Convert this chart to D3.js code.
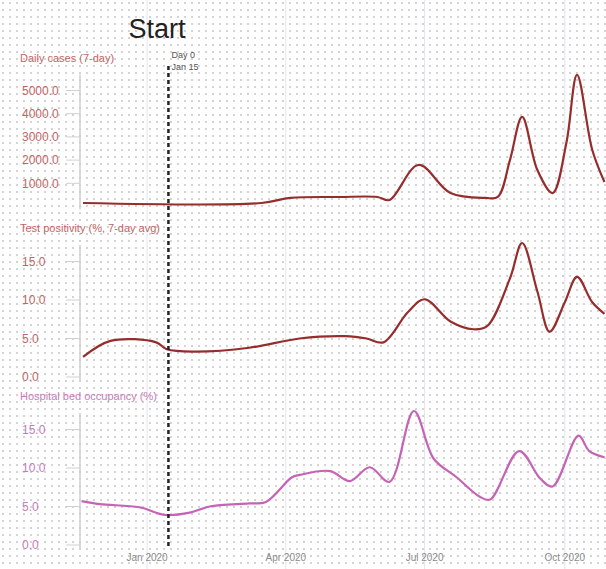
<!DOCTYPE html>
<html>
<head>
<meta charset="utf-8">
<script src="https://cdn.jsdelivr.net/npm/d3@7"></script>
<style>
body { margin: 0; background: #fff; }
svg { display: block; font-family: "Liberation Sans", Arial, sans-serif; }
</style>
</head>
<body>
<svg id="chart"></svg>
<script>
//chart data
const casesDates = ['2019-11-20', '2020-03-16', '2020-04-04', '2020-05-06', '2020-05-31', '2020-06-08', '2020-06-27', '2020-07-18', '2020-08-10', '2020-08-18', '2020-08-26', '2020-09-03', '2020-09-13', '2020-09-23', '2020-10-02', '2020-10-09', '2020-10-19', '2020-10-27'];
const casesValues = [150, 150, 370, 410, 410, 280, 1790, 580, 370, 410, 2000, 3860, 1570, 580, 2740, 5670, 2435, 1055];

const positivityDates = ['2019-11-20', '2019-12-08', '2020-01-07', '2020-01-14', '2020-02-01', '2020-03-08', '2020-04-10', '2020-05-10', '2020-05-24', '2020-06-04', '2020-06-20', '2020-07-01', '2020-07-18', '2020-08-02', '2020-08-11', '2020-08-26', '2020-09-03', '2020-09-13', '2020-09-21', '2020-10-01', '2020-10-09', '2020-10-19', '2020-10-27'];
const positivityValues = [2.6, 4.7, 4.5, 3.6, 3.3, 3.8, 5.0, 5.3, 5.0, 4.5, 8.4, 10.1, 7.2, 6.2, 6.6, 12.8, 17.4, 11.1, 5.9, 9.7, 13.0, 9.7, 8.2];

const hospitalDates = ['2019-11-19', '2019-12-01', '2019-12-27', '2020-01-13', '2020-01-29', '2020-02-11', '2020-03-08', '2020-03-19', '2020-04-05', '2020-04-10', '2020-04-30', '2020-05-13', '2020-05-26', '2020-06-08', '2020-06-24', '2020-07-07', '2020-07-22', '2020-08-06', '2020-08-13', '2020-09-01', '2020-09-15', '2020-09-23', '2020-10-10', '2020-10-17', '2020-10-27'];
const hospitalValues = [5.7, 5.3, 4.9, 3.9, 4.2, 5.0, 5.4, 5.6, 8.8, 9.1, 9.6, 8.3, 10.1, 8.2, 17.4, 11.2, 8.8, 6.3, 5.9, 12.2, 8.6, 7.6, 14.2, 12.2, 11.4];

const panelTitles = ['Daily cases (7-day)', 'Test positivity (%, 7-day avg)', 'Hospital bed occupancy (%)'];
const casesTicks = [1000, 2000, 3000, 4000, 5000];
const rateTicks = [0, 5, 10, 15];
const xTickDates = ['2020-01-01', '2020-04-01', '2020-07-01', '2020-10-01'];
const xTickLabels = ['Jan 2020', 'Apr 2020', 'Jul 2020', 'Oct 2020'];
const startDate = '2020-01-15';
const startNotes = ['Day 0', 'Jan 15'];

//define constants
const svgWidth = 606;
const svgHeight = 569;
const axisX = 80;
const labelX = 22;
const parse = d3.timeParse('%Y-%m-%d');

const svg = d3.select('#chart')
	.attr('width', svgWidth)
	.attr('height', svgHeight);

//dotted background
const pat = svg.append('defs').append('pattern')
	.attr('id', 'dots')
	.attr('width', 7)
	.attr('height', 7)
	.attr('patternUnits', 'userSpaceOnUse');
pat.append('rect')
	.attr('x', 2).attr('y', 2)
	.attr('width', 2).attr('height', 2)
	.attr('fill', '#d4d4d4');
svg.append('rect')
	.attr('width', svgWidth)
	.attr('height', svgHeight)
	.attr('fill', 'url(#dots)');

//x scale shared by panels
const xScale = d3.scaleTime()
	.domain([parse('2019-11-18'), parse('2020-10-28')])
	.range([axisX, svgWidth]);

//light vertical grid at ticks
svg.append('g').selectAll('line')
	.data(xTickDates)
	.enter()
	.append('line')
		.attr('x1', d => xScale(parse(d)))
		.attr('x2', d => xScale(parse(d)))
		.attr('y1', 0)
		.attr('y2', svgHeight)
		.attr('stroke', '#e2e5ee')
		.attr('stroke-width', 1);

//panel setup
const panels = [
	{title: panelTitles[0], dates: casesDates, values: casesValues, ticks: casesTicks, max: 5000, line: '#962d2d', text: '#c26464'},
	{title: panelTitles[1], dates: positivityDates, values: positivityValues, ticks: rateTicks, max: 15, line: '#962d2d', text: '#c26464'},
	{title: panelTitles[2], dates: hospitalDates, values: hospitalValues, ticks: rateTicks, max: 15, line: '#c663b5', text: '#c77bb9'}
];
const panelBottoms = [206.5, 377, 545];
const panelSpans = [116, 115.5, 115.5];
const fmt = d3.format('.1f');

panels.forEach((p, i) => {
	const bottom = panelBottoms[i];
	const yScale = d3.scaleLinear()
		.domain([0, p.max])
		.range([bottom, bottom - panelSpans[i]]);
	const g = svg.append('g');

	//title
	g.append('text')
		.attr('x', labelX - 2)
		.attr('y', bottom - 145)
		.attr('font-size', 11)
		.attr('fill', p.text)
		.text(p.title);

	//axis line
	g.append('line')
		.attr('x1', axisX).attr('x2', axisX)
		.attr('y1', bottom - 132).attr('y2', bottom + 3)
		.attr('stroke', '#cfcfcf')
		.attr('stroke-width', 1.5);

	//ticks
	const t = g.selectAll('.tick')
		.data(p.ticks)
		.enter()
		.append('g')
			.attr('transform', d => `translate(0, ${yScale(d)})`);
	t.append('line')
		.attr('x1', 66).attr('x2', axisX)
		.attr('stroke', '#d0d0d0');
	t.append('text')
		.attr('x', labelX)
		.attr('dy', '0.35em')
		.attr('font-size', 12)
		.attr('fill', p.text)
		.text(d => fmt(d));

	//series line
	const rows = p.dates.map((d, k) => ({date: parse(d), value: p.values[k]}));
	const line = d3.line()
		.x(d => xScale(d.date))
		.y(d => yScale(d.value))
		.curve(d3.curveCatmullRom.alpha(0.5));
	g.append('path')
		.datum(rows)
		.attr('d', line)
		.attr('fill', 'none')
		.attr('stroke', p.line)
		.attr('stroke-width', 2.2)
		.attr('stroke-linejoin', 'round');
});

//x axis labels
svg.append('g').selectAll('text')
	.data(xTickDates)
	.enter()
	.append('text')
		.attr('x', d => xScale(parse(d)))
		.attr('y', 561)
		.attr('text-anchor', 'middle')
		.attr('font-size', 10)
		.attr('fill', '#8a8a8a')
		.text((d, i) => xTickLabels[i]);

//start marker
const sx = xScale(parse(startDate));
svg.append('line')
	.attr('x1', sx).attr('x2', sx)
	.attr('y1', 66).attr('y2', 546)
	.attr('stroke', '#222')
	.attr('stroke-width', 2.5)
	.attr('stroke-dasharray', '4,3');
svg.append('g').selectAll('text')
	.data(startNotes)
	.enter()
	.append('text')
		.attr('x', sx + 3)
		.attr('y', (d, i) => 58 + i * 12)
		.attr('font-size', 9)
		.attr('fill', '#555')
		.text(d => d);

//title
svg.append('text')
	.attr('x', 157)
	.attr('y', 38)
	.attr('text-anchor', 'middle')
	.attr('font-size', 27)
	.attr('fill', '#222')
	.text('Start');
</script>
</body>
</html>
